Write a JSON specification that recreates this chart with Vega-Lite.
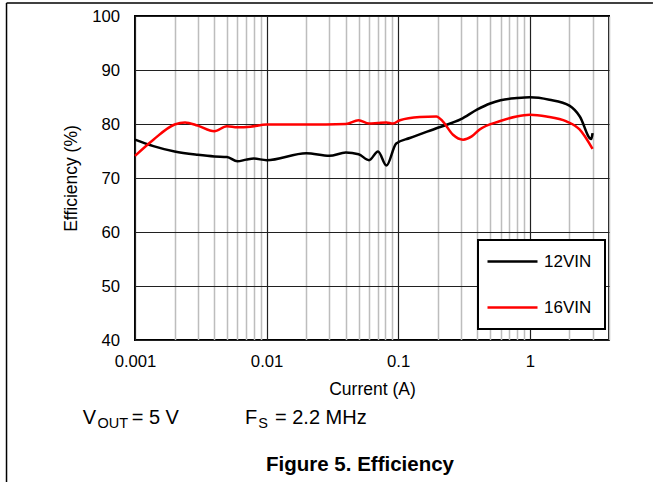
{
  "$schema": "https://vega.github.io/schema/vega-lite/v6.json",
  "width": 474,
  "height": 324,
  "autosize": {"type": "none"},
  "padding": {"left": 135, "top": 16, "right": 44, "bottom": 142},
  "background": "white",
  "config": {
    "font": "Liberation Sans",
    "view": {"stroke": "black", "strokeWidth": 2}
  },
  "layer": [
    {
      "data": {
        "values": [
          {"current": 0.001, "eff": 77.1, "series": "12VIN"},
          {"current": 0.00138, "eff": 75.9, "series": "12VIN"},
          {"current": 0.002, "eff": 74.9, "series": "12VIN"},
          {"current": 0.003, "eff": 74.3, "series": "12VIN"},
          {"current": 0.004, "eff": 74.0, "series": "12VIN"},
          {"current": 0.005, "eff": 73.9, "series": "12VIN"},
          {"current": 0.006, "eff": 73.1, "series": "12VIN"},
          {"current": 0.007, "eff": 73.4, "series": "12VIN"},
          {"current": 0.008, "eff": 73.6, "series": "12VIN"},
          {"current": 0.01, "eff": 73.3, "series": "12VIN"},
          {"current": 0.02, "eff": 74.6, "series": "12VIN"},
          {"current": 0.03, "eff": 74.1, "series": "12VIN"},
          {"current": 0.04, "eff": 74.7, "series": "12VIN"},
          {"current": 0.05, "eff": 74.4, "series": "12VIN"},
          {"current": 0.06, "eff": 73.3, "series": "12VIN"},
          {"current": 0.0703, "eff": 74.9, "series": "12VIN"},
          {"current": 0.0814, "eff": 72.3, "series": "12VIN"},
          {"current": 0.0966, "eff": 76.4, "series": "12VIN"},
          {"current": 0.1225, "eff": 77.4, "series": "12VIN"},
          {"current": 0.2, "eff": 79.3, "series": "12VIN"},
          {"current": 0.3, "eff": 80.9, "series": "12VIN"},
          {"current": 0.4, "eff": 82.7, "series": "12VIN"},
          {"current": 0.5, "eff": 83.8, "series": "12VIN"},
          {"current": 0.6, "eff": 84.4, "series": "12VIN"},
          {"current": 0.8, "eff": 84.8, "series": "12VIN"},
          {"current": 1.0, "eff": 84.95, "series": "12VIN"},
          {"current": 1.41, "eff": 84.5, "series": "12VIN"},
          {"current": 2.0, "eff": 83.4, "series": "12VIN"},
          {"current": 2.4, "eff": 81.4, "series": "12VIN"},
          {"current": 2.93, "eff": 77.2, "series": "12VIN"},
          {"current": 3.0, "eff": 78.3, "series": "12VIN"},
          {"current": 0.001, "eff": 74.1, "series": "16VIN"},
          {"current": 0.00138, "eff": 77.1, "series": "16VIN"},
          {"current": 0.002, "eff": 79.9, "series": "16VIN"},
          {"current": 0.0024, "eff": 80.3, "series": "16VIN"},
          {"current": 0.003, "eff": 79.7, "series": "16VIN"},
          {"current": 0.004, "eff": 78.65, "series": "16VIN"},
          {"current": 0.005, "eff": 79.6, "series": "16VIN"},
          {"current": 0.006, "eff": 79.4, "series": "16VIN"},
          {"current": 0.0075, "eff": 79.5, "series": "16VIN"},
          {"current": 0.01, "eff": 79.9, "series": "16VIN"},
          {"current": 0.02, "eff": 79.9, "series": "16VIN"},
          {"current": 0.04, "eff": 80.0, "series": "16VIN"},
          {"current": 0.05, "eff": 80.7, "series": "16VIN"},
          {"current": 0.06, "eff": 80.1, "series": "16VIN"},
          {"current": 0.07, "eff": 80.2, "series": "16VIN"},
          {"current": 0.0814, "eff": 80.3, "series": "16VIN"},
          {"current": 0.0912, "eff": 80.1, "series": "16VIN"},
          {"current": 0.103, "eff": 80.7, "series": "16VIN"},
          {"current": 0.146, "eff": 81.3, "series": "16VIN"},
          {"current": 0.195, "eff": 81.4, "series": "16VIN"},
          {"current": 0.218, "eff": 80.5, "series": "16VIN"},
          {"current": 0.261, "eff": 78.0, "series": "16VIN"},
          {"current": 0.311, "eff": 77.1, "series": "16VIN"},
          {"current": 0.362, "eff": 77.7, "series": "16VIN"},
          {"current": 0.416, "eff": 79.0, "series": "16VIN"},
          {"current": 0.589, "eff": 80.5, "series": "16VIN"},
          {"current": 0.794, "eff": 81.4, "series": "16VIN"},
          {"current": 1.0, "eff": 81.7, "series": "16VIN"},
          {"current": 1.34, "eff": 81.4, "series": "16VIN"},
          {"current": 1.9, "eff": 80.5, "series": "16VIN"},
          {"current": 2.39, "eff": 79.0, "series": "16VIN"},
          {"current": 3.0, "eff": 75.4, "series": "16VIN"}
        ]
      },
      "mark": {"type": "line", "strokeWidth": 2.5, "interpolate": "monotone"},
      "encoding": {
        "x": {
          "field": "current",
          "type": "quantitative",
          "scale": {"type": "log", "domain": [0.001, 4], "nice": false},
          "axis": {
            "values": [0.001, 0.002, 0.003, 0.004, 0.005, 0.006, 0.007, 0.008, 0.009, 0.01, 0.02, 0.03, 0.04, 0.05, 0.06, 0.07, 0.08, 0.09, 0.1, 0.2, 0.3, 0.4, 0.5, 0.6, 0.7, 0.8, 0.9, 1, 2, 3, 4],
            "title": "Current (A)",
            "grid": true,
            "gridColor": {"condition": {"test": "indexof([0.001,0.01,0.1,1], datum.value) >= 0", "value": "#202020"}, "value": "#bdbdbd"},
            "gridWidth": {"condition": {"test": "indexof([0.001,0.01,0.1,1], datum.value) >= 0", "value": 1.2}, "value": 1.5},
            "ticks": false,
            "domain": false,
            "labelExpr": "datum.value == 0.001 ? '0.001' : datum.value == 0.01 ? '0.01' : datum.value == 0.1 ? '0.1' : datum.value == 1 ? '1' : ''",
            "labelPadding": 13,
            "labelFontSize": 16.7,
            "labelColor": "black",
            "labelOverlap": false,
            "labelFlush": false,
            "titleFontSize": 17.5,
            "titleFontWeight": "normal",
            "titleColor": "black",
            "titlePadding": 11
          }
        },
        "y": {
          "field": "eff",
          "type": "quantitative",
          "scale": {"domain": [40, 100], "nice": false, "zero": false},
          "axis": {
            "values": [40, 50, 60, 70, 80, 90, 100],
            "title": "Efficiency (%)",
            "grid": true,
            "gridColor": "#202020",
            "gridWidth": 1.2,
            "ticks": false,
            "domain": false,
            "labelPadding": 15.5,
            "labelFontSize": 16.7,
            "labelColor": "black",
            "titleFontSize": 17.5,
            "titleFontWeight": "normal",
            "titleColor": "black",
            "titlePadding": 11
          }
        },
        "color": {
          "field": "series",
          "type": "nominal",
          "scale": {"domain": ["12VIN", "16VIN"], "range": ["#000000", "#ff0000"]},
          "legend": {
            "title": null,
            "orient": "none",
            "legendX": 343,
            "legendY": 224,
            "symbolType": "M-2.4,0H7.6",
            "symbolSize": 100,
            "symbolStrokeWidth": 2.5,
            "labelFontSize": 17,
            "labelColor": "black",
            "labelOffset": 36,
            "rowPadding": 28,
            "padding": 13,
            "strokeColor": "black",
            "fillColor": "white",
            "labelLimit": 200,
            "encode": {"legend": {"update": {"strokeWidth": {"value": 2}}}}
          }
        }
      }
    },
    {
      "data": {"values": [{}]},
      "mark": {"type": "text", "text": "V", "align": "left", "baseline": "alphabetic", "fontSize": 20, "color": "black"},
      "encoding": {"x": {"datum": 0.0004005, "type": "quantitative"}, "y": {"datum": 24.39, "type": "quantitative"}}
    },
    {
      "data": {"values": [{}]},
      "mark": {"type": "text", "text": "OUT", "align": "left", "baseline": "alphabetic", "fontSize": 14.5, "color": "black"},
      "encoding": {"x": {"datum": 0.000519, "type": "quantitative"}, "y": {"datum": 23.65, "type": "quantitative"}}
    },
    {
      "data": {"values": [{}]},
      "mark": {"type": "text", "text": "= 5 V", "align": "left", "baseline": "alphabetic", "fontSize": 20, "color": "black"},
      "encoding": {"x": {"datum": 0.000944, "type": "quantitative"}, "y": {"datum": 24.39, "type": "quantitative"}}
    },
    {
      "data": {"values": [{}]},
      "mark": {"type": "text", "text": "F", "align": "left", "baseline": "alphabetic", "fontSize": 20, "color": "black"},
      "encoding": {"x": {"datum": 0.006853, "type": "quantitative"}, "y": {"datum": 24.39, "type": "quantitative"}}
    },
    {
      "data": {"values": [{}]},
      "mark": {"type": "text", "text": "S", "align": "left", "baseline": "alphabetic", "fontSize": 14.5, "color": "black"},
      "encoding": {"x": {"datum": 0.00865, "type": "quantitative"}, "y": {"datum": 23.65, "type": "quantitative"}}
    },
    {
      "data": {"values": [{}]},
      "mark": {"type": "text", "text": "= 2.2 MHz", "align": "left", "baseline": "alphabetic", "fontSize": 20, "color": "black"},
      "encoding": {"x": {"datum": 0.01158, "type": "quantitative"}, "y": {"datum": 24.39, "type": "quantitative"}}
    },
    {
      "data": {"values": [{}]},
      "mark": {"type": "text", "text": "Figure 5. Efficiency", "align": "center", "baseline": "alphabetic", "fontSize": 20.5, "fontWeight": "bold", "color": "black"},
      "encoding": {"x": {"datum": 0.05125, "type": "quantitative"}, "y": {"datum": 15.74, "type": "quantitative"}}
    },
    {
      "data": {"values": [{}]},
      "mark": {"type": "rule", "color": "black", "strokeWidth": 1.5},
      "encoding": {"x": {"datum": 0.0001056, "type": "quantitative"}, "y": {"datum": 13.7, "type": "quantitative"}, "y2": {"datum": 102.41}}
    },
    {
      "data": {"values": [{}]},
      "mark": {"type": "rule", "color": "black", "strokeWidth": 1.5},
      "encoding": {"x": {"datum": 0.0001056, "type": "quantitative"}, "x2": {"datum": 8.63}, "y": {"datum": 102.41, "type": "quantitative"}}
    }
  ]
}
